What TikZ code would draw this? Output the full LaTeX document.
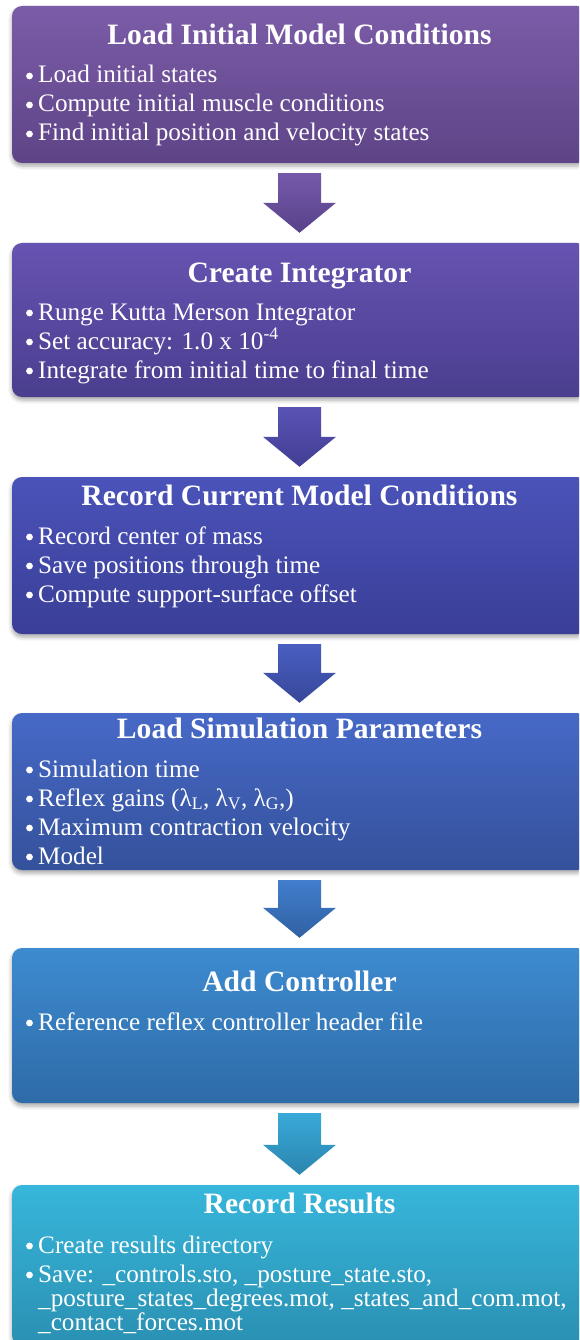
\documentclass[tikz,border=0pt]{standalone}
\usepackage{fontspec}
\setmainfont{Liberation Serif}
\usetikzlibrary{shadings,shadows.blur,calc}
\definecolor{c1t}{HTML}{7B5CA8}\definecolor{c1b}{HTML}{5E4487}
\definecolor{c2t}{HTML}{6753B1}\definecolor{c2b}{HTML}{4A3E8F}
\definecolor{c3t}{HTML}{4A53B9}\definecolor{c3b}{HTML}{3A3E97}
\definecolor{c4t}{HTML}{4769C7}\definecolor{c4b}{HTML}{34519B}
\definecolor{c5t}{HTML}{3D8BD0}\definecolor{c5b}{HTML}{2E6BA8}
\definecolor{c6t}{HTML}{37B6DB}\definecolor{c6b}{HTML}{2A90B2}
\begin{document}
\begin{tikzpicture}[x=1pt,y=-1pt,
  box/.style={rounded corners=10pt, minimum width=575pt, inner sep=0pt,
    blur shadow={shadow xshift=0pt,shadow yshift=-3pt,shadow blur radius=4pt,shadow opacity=35}},
  ttl/.style={font=\fontsize{29.6}{34}\selectfont\bfseries, text=white, inner sep=0pt, anchor=base},
  itm/.style={font=\fontsize{25.2}{29}\selectfont, text=white, inner sep=0pt, anchor=base west},
  dotb/.style={fill=white},
]
\path[use as bounding box] (0,0) rectangle (579,1340);
\clip (0,0) rectangle (579,1340);
% boxes
\node[box, minimum height=157pt, top color=c1t, bottom color=c1b] (b1) at (299.5,84.5) {};
\node[box, minimum height=154pt, top color=c2t, bottom color=c2b] (b2) at (299.5,320) {};
\node[box, minimum height=157pt, top color=c3t, bottom color=c3b] (b3) at (299.5,555.5) {};
\node[box, minimum height=157pt, top color=c4t, bottom color=c4b] (b4) at (299.5,791.5) {};
\node[box, minimum height=155pt, top color=c5t, bottom color=c5b] (b5) at (299.5,1025.5) {};
\node[box, minimum height=160pt, top color=c6t, bottom color=c6b] (b6) at (299.5,1265) {};
% arrows
\foreach \a/\b/\ct/\cb in {b1/b2/c1t!70!c2t/c1b!70!c2b, b2/b3/c2t!50!c3t/c2b!50!c3b, b3/b4/c3t!50!c4t/c3b!50!c4b, b4/b5/c4t!40!c5t/c4b!40!c5b, b5/b6/c5t!30!c6t/c5b!30!c6b}{
  \coordinate (s) at ($(\a.south)+(0,10)$);
  \coordinate (t) at ($(\b.north)+(0,-10)$);
  \coordinate (h) at ($(t)+(0,-30)$);
  \shade[top color=\ct, bottom color=\cb]
    ($(s)+(-21.5,0)$) -- ($(s)+(21.5,0)$) -- ($(h)+(21.5,0)$) -- ($(h)+(36.5,0)$)
    -- (t) -- ($(h)+(-36.5,0)$) -- ($(h)+(-21.5,0)$) -- cycle;
}
% box 1
\node[ttl] (t1) at (299.5,45) {Load Initial Model Conditions};
\node[itm] (t1a) at (38,83) {Load initial states};
\node[itm] (t1b) at (38,112) {Compute initial muscle conditions};
\node[itm] (t1c) at (38,141) {Find initial position and velocity states};
% box 2
\node[ttl] (t2) at (299.5,282) {Create Integrator};
\node[itm] (t2a) at (38,320) {Runge Kutta Merson Integrator};
\node[itm] (t2b) at (38,349) {Set accuracy: 1.0 x 10\textsuperscript{-4}};
\node[itm] (t2c) at (38,378) {Integrate from initial time to final time};
% box 3
\node[ttl] (t3) at (299.5,505) {Record Current Model Conditions};
\node[itm] (t3a) at (38,544) {Record center of mass};
\node[itm] (t3b) at (38,573) {Save positions through time};
\node[itm] (t3c) at (38,602) {Compute support-surface offset};
% box 4
\node[ttl] (t4) at (299.5,738) {Load Simulation Parameters};
\node[itm] (t4a) at (38,777) {Simulation time};
\node[itm] (t4b) at (38,806) {Reflex gains (λ\textsubscript{L}, λ\textsubscript{V}, λ\textsubscript{G},)};
\node[itm] (t4c) at (38,835) {Maximum contraction velocity};
\node[itm] (t4d) at (38,864) {Model};
% box 5
\node[ttl] (t5) at (299.5,991) {Add Controller};
\node[itm] (t5a) at (38,1030) {Reference reflex controller header file};
% box 6
\node[ttl] (t6) at (299.5,1213) {Record Results};
\node[itm] (t6a) at (38,1253) {Create results directory};
\node[itm] (t6b) at (38,1282) {Save: \_controls.sto, \_posture\_state.sto,};
\node[itm] (t6c) at (38,1306) {\_posture\_states\_degrees.mot, \_states\_and\_com.mot,};
\node[itm] (t6d) at (38,1330) {\_contact\_forces.mot};
% bullets
\foreach \n in {t1a,t1b,t1c,t2a,t2b,t2c,t3a,t3b,t3c,t4a,t4b,t4c,t4d,t5a,t6a,t6b}{
  \fill[dotb] ($(\n.base west)+(-8.5,-7)$) circle (3.4pt);
}
\end{tikzpicture}
\end{document}
